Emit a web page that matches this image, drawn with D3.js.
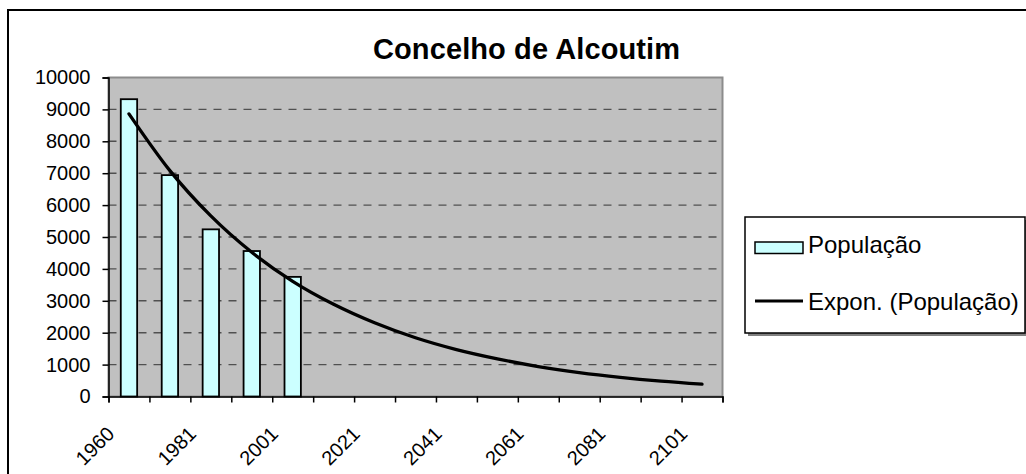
<!DOCTYPE html>
<html>
<head>
<meta charset="utf-8">
<script src="https://cdn.jsdelivr.net/npm/d3@7"></script>
<style>
  html, body { margin: 0; padding: 0; background: #fff; }
  svg { display: block; font-family: "Liberation Sans", Arial, sans-serif; }
</style>
</head>
<body>
<svg id="chart" width="1026" height="474"></svg>
<script>
// ---- data ----
const categories = ["1960","1970","1981","1991","2001","2011","2021","2031","2041","2051","2061","2071","2081","2091","2101"];
const populacao = [9320, 6940, 5240, 4560, 3750];
const trendValues = [8860, 7080, 5660, 4520, 3610, 2890, 2310, 1840, 1470, 1180, 940, 750, 600, 480, 385];
const yTicks = [0,1000,2000,3000,4000,5000,6000,7000,8000,9000,10000];
const xLabelCats = ["1960","1981","2001","2021","2041","2061","2081","2101"];
const titleText = "Concelho de Alcoutim";
const legendLabels = ["População", "Expon. (População)"];

// ---- layout ----
const svg = d3.select("#chart");
const plot = { left: 108.5, right: 722.5, top: 77.5, bottom: 396.5 };

// outer chart border
svg.append("rect")
  .attr("x", 8).attr("y", 10).attr("width", 1100).attr("height", 520)
  .attr("fill", "#fff").attr("stroke", "#000").attr("stroke-width", 2);

// title
svg.append("text")
  .attr("x", 526.5).attr("y", 59)
  .attr("text-anchor", "middle")
  .attr("font-weight", "bold").attr("font-size", 29)
  .attr("textLength", 307).attr("lengthAdjust", "spacing")
  .text(titleText);

const x = d3.scaleBand().domain(categories).range([plot.left, plot.right]).padding(0);
const xEdges = d3.scaleLinear().domain([0, categories.length]).range([plot.left, plot.right]);
const y = d3.scaleLinear().domain([0, 10000]).range([plot.bottom, plot.top]);

// plot background
svg.append("rect")
  .attr("x", plot.left).attr("y", plot.top)
  .attr("width", plot.right - plot.left).attr("height", plot.bottom - plot.top)
  .attr("fill", "#c0c0c0").attr("stroke", "#8c8c8c").attr("stroke-width", 2);

// gridlines
svg.append("g").selectAll("line")
  .data(yTicks.filter(d => d > 0 && d < 10000))
  .join("line")
  .attr("x1", plot.left).attr("x2", plot.right - 2)
  .attr("y1", d => y(d)).attr("y2", d => y(d))
  .attr("stroke", "#505050").attr("stroke-width", 1.4)
  .attr("stroke-dasharray", "8,7");

// bars
const bw = x.bandwidth() * 0.4;
svg.append("g").selectAll("rect")
  .data(populacao)
  .join("rect")
  .attr("x", (d, i) => x(categories[i]) + (x.bandwidth() - bw) / 2)
  .attr("y", d => y(d))
  .attr("width", bw)
  .attr("height", d => y(0) - y(d))
  .attr("fill", "#ccffff").attr("stroke", "#000").attr("stroke-width", 1.8);

// trend line
const line = d3.line()
  .x((d, i) => x(categories[i]) + x.bandwidth() / 2)
  .y(d => y(d))
  .curve(d3.curveMonotoneX);
svg.append("path")
  .datum(trendValues)
  .attr("d", line)
  .attr("fill", "none").attr("stroke", "#000").attr("stroke-width", 3.3)
  .attr("stroke-linecap", "round");

// y axis
const yAxis = svg.append("g")
  .attr("transform", `translate(${plot.left},0)`)
  .call(d3.axisLeft(y).tickValues(yTicks).tickSize(6).tickPadding(12).tickFormat(d3.format("d")));
yAxis.selectAll("path, line").attr("stroke", "#000").attr("stroke-width", 1.5);
yAxis.selectAll("text").attr("font-size", 20).attr("fill", "#000")
  .attr("font-family", "'Liberation Sans', Arial, sans-serif");

// x axis (ticks at category boundaries)
const xAxis = svg.append("g")
  .attr("transform", `translate(0,${plot.bottom})`)
  .call(d3.axisBottom(xEdges).tickValues(d3.range(categories.length + 1)).tickSize(6).tickFormat(""));
xAxis.selectAll("path, line").attr("stroke", "#000").attr("stroke-width", 1.5);

// x labels (rotated)
svg.append("g").selectAll("text")
  .data(xLabelCats)
  .join("text")
  .attr("transform", d => `translate(${x(d) - 3},${425}) rotate(-45)`)
  .attr("text-anchor", "end")
  .attr("dy", "0.71em")
  .attr("font-size", 20)
  .text(d => d);

// legend
const lg = svg.append("g");
lg.append("rect").attr("x", 748).attr("y", 220).attr("width", 280).attr("height", 116).attr("fill", "#808080");
lg.append("rect").attr("x", 745).attr("y", 217).attr("width", 280).attr("height", 116)
  .attr("fill", "#fff").attr("stroke", "#000").attr("stroke-width", 1.5);
lg.append("rect").attr("x", 755).attr("y", 242).attr("width", 48).attr("height", 11.5)
  .attr("fill", "#ccffff").attr("stroke", "#000").attr("stroke-width", 1.5);
lg.append("line").attr("x1", 755).attr("x2", 803).attr("y1", 301).attr("y2", 301)
  .attr("stroke", "#000").attr("stroke-width", 3);
lg.selectAll("text.lt")
  .data(legendLabels)
  .join("text")
  .attr("class", "lt")
  .attr("x", 808)
  .attr("y", (d, i) => i === 0 ? 252.5 : 310)
  .attr("font-size", 24)
  .text(d => d);
</script>
</body>
</html>
